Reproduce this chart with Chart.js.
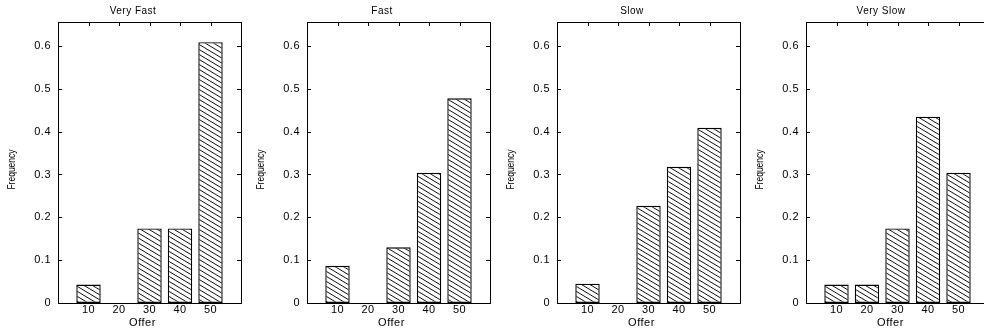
<!DOCTYPE html>
<html>
<head>
<meta charset="utf-8">
<script src="https://cdn.jsdelivr.net/npm/chart.js@4/dist/chart.umd.min.js"></script>
<style>
  html, body { margin: 0; padding: 0; background: #fff; overflow: hidden; }
  #wrap { position: relative; width: 984px; height: 335px; overflow: hidden; background: #fff; }
  canvas { position: absolute; top: 0; }
</style>
</head>
<body>
<div id="wrap">
  <canvas id="c0" width="249" height="335" style="left:0px"></canvas>
  <canvas id="c1" width="249" height="335" style="left:249px"></canvas>
  <canvas id="c2" width="249" height="335" style="left:499px"></canvas>
  <canvas id="c3" width="249" height="335" style="left:748px"></canvas>
</div>
<script>
// ---- data ----
const categories = [10, 20, 30, 40, 50];
const xTickLabels = ['10', '20', '30', '40', '50'];
const yTickValues = [0, 0.1, 0.2, 0.3, 0.4, 0.5, 0.6];
const yTickLabels = ['0', '0.1', '0.2', '0.3', '0.4', '0.5', '0.6'];
const panelTitles = ['Very Fast', 'Fast', 'Slow', 'Very Slow'];
const veryFast = [0.043, 0, 0.174, 0.174, 0.609];
const fast     = [0.087, 0, 0.130, 0.304, 0.478];
const slow     = [0.045, 0, 0.227, 0.318, 0.409];
const verySlow = [0.043, 0.043, 0.174, 0.435, 0.304];
const seriesList = [veryFast, fast, slow, verySlow];
const xAxisTitle = 'Offer';
const yAxisTitle = 'Frequency';

// ---- hatch pattern ----
function makeHatch() {
  const t = document.createElement('canvas');
  t.width = 25; t.height = 15;
  const g = t.getContext('2d');
  g.fillStyle = '#fff';
  g.fillRect(0, 0, 25, 15);
  g.strokeStyle = '#111';
  g.lineWidth = 1;
  for (let c = -20; c <= 20; c += 5) {
    g.beginPath();
    g.moveTo(-1, 0.6 * -1 + c);
    g.lineTo(26, 0.6 * 26 + c);
    g.stroke();
  }
  return t;
}
const hatchTile = makeHatch();

const FONT = "'Liberation Sans', Arial, Helvetica, sans-serif";

function wrapTitles(chart) {
  const ys = chart.scales.y, xs = chart.scales.x;
  if (ys && !ys._wrapT) {
    const o = ys.drawTitle;
    ys.drawTitle = function () {
      const c = this.ctx;
      c.save();
      c.letterSpacing = '0px';
      const cy = (this.top + this.bottom) / 2;
      c.translate(0, cy + 7);
      c.scale(1, 0.85);
      c.translate(0, -cy);
      o.call(this);
      c.restore();
    };
    ys._wrapT = true;
  }
  if (xs && !xs._wrapT) {
    const o = xs.drawTitle;
    xs.drawTitle = function () {
      const c = this.ctx;
      c.save();
      c.translate(-7, 0);
      o.call(this);
      c.restore();
    };
    xs._wrapT = true;
  }
}

const framePlugin = {
  id: 'frame',
  beforeLayout(chart) { chart.ctx.letterSpacing = '0.5px'; },
  beforeDraw(chart) { chart.ctx.letterSpacing = '0.5px'; wrapTitles(chart); },
  beforeDatasetsDraw(chart) {
    const { ctx, chartArea: a, scales: { x, y } } = chart;
    ctx.save();
    ctx.strokeStyle = '#000';
    ctx.lineWidth = 1;
    ctx.beginPath();
    categories.forEach(v => {
      const px = Math.round(x.getPixelForValue(v)) + 0.5;
      ctx.moveTo(px, a.top);
      ctx.lineTo(px, a.top + 4);
    });
    yTickValues.forEach(v => {
      if (v === 0) return;
      const py = Math.round(y.getPixelForValue(v)) + 0.5;
      ctx.moveTo(a.left, py);
      ctx.lineTo(a.left + 4, py);
      ctx.moveTo(a.right, py);
      ctx.lineTo(a.right - 4, py);
    });
    ctx.stroke();
    ctx.restore();
  },
  afterDatasetsDraw(chart) {
    const { ctx, chartArea: a } = chart;
    ctx.save();
    ctx.strokeStyle = '#000';
    ctx.lineWidth = 1;
    ctx.strokeRect(Math.round(a.left) + 0.5, Math.round(a.top) + 0.5,
                   Math.round(a.right - a.left), Math.round(a.bottom - a.top));
    ctx.restore();
  }
};

seriesList.forEach((series, i) => {
  const canvas = document.getElementById('c' + i);
  const ctx = canvas.getContext('2d');
  const pattern = ctx.createPattern(hatchTile, 'repeat');
  new Chart(canvas, {
    type: 'bar',
    data: {
      datasets: [{
        data: categories.map((c, k) => ({ x: c, y: series[k] })),
        backgroundColor: pattern,
        borderColor: '#000',
        borderWidth: 1.4,
        borderSkipped: false,
        barPercentage: 0.8,
        categoryPercentage: 1.0
      }]
    },
    options: {
      responsive: false,
      animation: false,
      devicePixelRatio: 1,
      layout: { padding: { left: 25, right: 8, top: 0, bottom: 0 } },
      plugins: {
        legend: { display: false },
        tooltip: { enabled: false },
        title: {
          display: true,
          text: panelTitles[i],
          color: '#000',
          font: { family: FONT, size: 10, weight: 'normal', lineHeight: 1.2 },
          padding: { top: 5, bottom: 5 },
          fullSize: true
        }
      },
      scales: {
        x: {
          type: 'linear',
          min: 0,
          max: 60,
          offset: false,
          grid: { display: false, drawTicks: false, tickLength: 0 },
          border: { display: false },
          ticks: {
            stepSize: 10,
            includeBounds: false,
            autoSkip: false,
            maxRotation: 0,
            padding: 0,
            color: '#000',
            font: { family: FONT, size: 11 },
            callback: v => {
              const k = categories.indexOf(v);
              return k >= 0 ? xTickLabels[k] : null;
            }
          },
          title: {
            display: true,
            text: xAxisTitle,
            color: '#000',
            font: { family: FONT, size: 11, lineHeight: 1.2 },
            padding: { top: 5, bottom: 5 }
          },
          afterFit: s => { s.height = 32; }
        },
        y: {
          min: 0,
          max: 0.656,
          grid: { display: false, drawTicks: false, tickLength: 0 },
          border: { display: false },
          ticks: {
            stepSize: 0.1,
            includeBounds: false,
            padding: 7,
            color: '#000',
            font: { family: FONT, size: 11 },
            callback: v => {
              const k = yTickValues.findIndex(t => Math.abs(t - v) < 1e-6);
              return k >= 0 ? yTickLabels[k] : null;
            }
          },
          title: {
            display: true,
            text: yAxisTitle,
            color: '#000',
            font: { family: FONT, size: 10, lineHeight: 1.2 },
            padding: { top: -19, bottom: -19 }
          },
          afterFit: s => { s.width = 33; }
        }
      }
    },
    plugins: [framePlugin]
  });
});
</script>
</body>
</html>
